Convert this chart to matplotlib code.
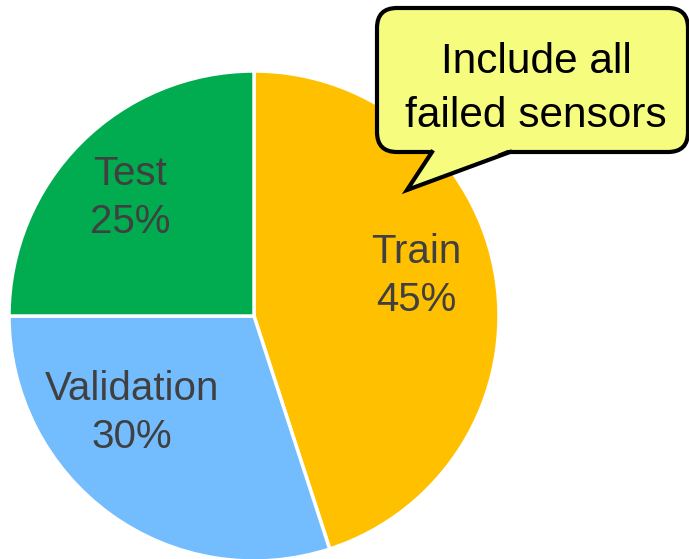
import matplotlib
matplotlib.use("Agg")
import matplotlib.pyplot as plt
from matplotlib.patches import FancyBboxPatch, Polygon
from matplotlib.lines import Line2D

plt.rcParams['font.family'] = ['Liberation Sans', 'DejaVu Sans']

categories = ["Train", "Validation", "Test"]
shares = [45, 30, 25]
colors = ["#FFC000", "#73BDFF", "#00AC4F"]
callout_text = "Include all\nfailed sensors"

W, H = 689, 559
fig = plt.figure(figsize=(W / 100, H / 100), dpi=100)
ax = fig.add_axes([0, 0, 1, 1])

center = (254, 243)
radius = 245
wedges, _ = ax.pie(shares, colors=colors, startangle=90, counterclock=False,
                   center=center, radius=radius, frame=True,
                   wedgeprops=dict(edgecolor="white", linewidth=2.5))
ax.set_xlim(0, W)
ax.set_ylim(0, H)
ax.set_aspect("equal")
ax.axis("off")

label_pos = {"Train": (416, 283), "Validation": (132, 146), "Test": (130, 361)}
for cat, val in zip(categories, shares):
    x, y = label_pos[cat]
    ax.text(x, y, f"{cat}\n{val}%", ha="center", va="center", fontsize=29,
            color="#404040", linespacing=1.32, zorder=4)

# Speech-bubble callout
fill = "#F6FC7E"
box = FancyBboxPatch((377, 407), 311, 144, boxstyle="round,pad=0,rounding_size=20",
                     facecolor=fill, edgecolor="black", linewidth=3, zorder=5)
ax.add_patch(box)
tail = [(432, 407), (407, 369), (510, 407)]
ax.add_patch(Polygon([(432, 410), (407, 369), (510, 410)], closed=True,
                     facecolor=fill, edgecolor="none", zorder=6))
ax.add_line(Line2D([p[0] for p in tail], [p[1] for p in tail], color="black",
                   linewidth=3, solid_joinstyle="miter", zorder=7))
ax.text(536, 470, callout_text, ha="center", va="center", fontsize=30.5,
        color="black", linespacing=1.45, zorder=8)

fig.savefig("out.png", dpi=100)
